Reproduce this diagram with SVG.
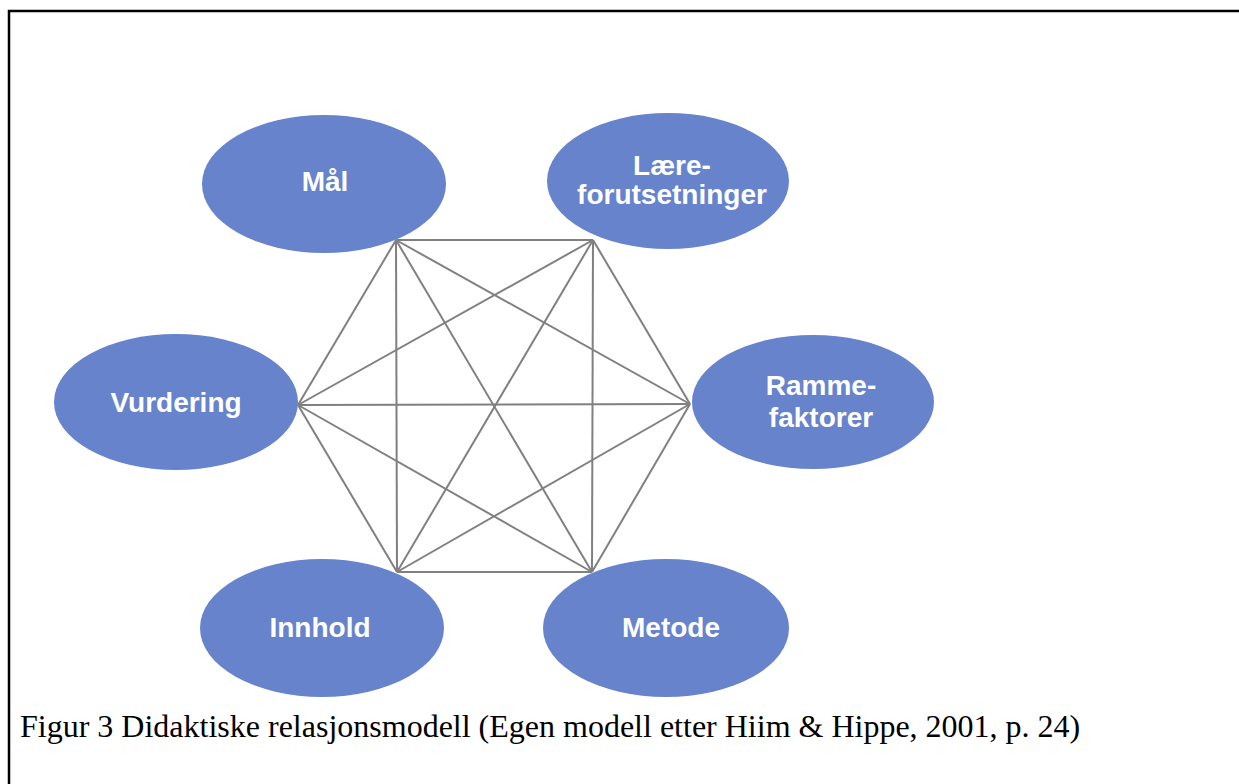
<svg xmlns="http://www.w3.org/2000/svg" width="1239" height="784" viewBox="0 0 1239 784">
<style>
.node ellipse{fill:#6683CC;}
.node text{fill:#fff;font-family:"Liberation Sans",Arial,sans-serif;font-weight:bold;font-size:28px;text-anchor:middle;}
.edges line{stroke:#808080;stroke-width:2;}
.cap{font-family:"Liberation Serif","Times New Roman",serif;font-size:32px;fill:#000;}
</style>
<rect x="0" y="0" width="1239" height="784" fill="#fff"/>
<path d="M9 784 V11 H1239" fill="none" stroke="#000" stroke-width="2.5"/>
<g id="nodes">
<g id="maal" class="node"><ellipse cx="324" cy="184" rx="122" ry="69"/><text x="325" y="191">Mål</text></g>
<g id="laere" class="node"><ellipse cx="668" cy="181" rx="121" ry="68"/><text x="672" y="175">Lære-</text><text x="672" y="204">forutsetninger</text></g>
<g id="vurdering" class="node"><ellipse cx="176" cy="402" rx="122" ry="68"/><text x="176" y="412">Vurdering</text></g>
<g id="ramme" class="node"><ellipse cx="813" cy="402" rx="121" ry="67"/><text x="821" y="395">Ramme-</text><text x="821" y="427">faktorer</text></g>
<g id="innhold" class="node"><ellipse cx="322" cy="628" rx="122" ry="69"/><text x="320" y="637">Innhold</text></g>
<g id="metode" class="node"><ellipse cx="666" cy="628" rx="123" ry="69"/><text x="671" y="637">Metode</text></g>
</g>
<g id="connectors" class="edges">
<line x1="396" y1="240" x2="593" y2="240"/>
<line x1="396" y1="240" x2="298" y2="405"/>
<line x1="396" y1="240" x2="690" y2="404"/>
<line x1="396" y1="240" x2="397" y2="572"/>
<line x1="396" y1="240" x2="592" y2="572"/>
<line x1="593" y1="240" x2="298" y2="405"/>
<line x1="593" y1="240" x2="690" y2="404"/>
<line x1="593" y1="240" x2="397" y2="572"/>
<line x1="593" y1="240" x2="592" y2="572"/>
<line x1="298" y1="405" x2="690" y2="404"/>
<line x1="298" y1="405" x2="397" y2="572"/>
<line x1="298" y1="405" x2="592" y2="572"/>
<line x1="690" y1="404" x2="397" y2="572"/>
<line x1="690" y1="404" x2="592" y2="572"/>
<line x1="397" y1="572" x2="592" y2="572"/>
</g>
<text class="cap" x="20" y="737">Figur 3 Didaktiske relasjonsmodell (Egen modell etter Hiim &amp; Hippe, 2001, p. 24)</text>
</svg>
